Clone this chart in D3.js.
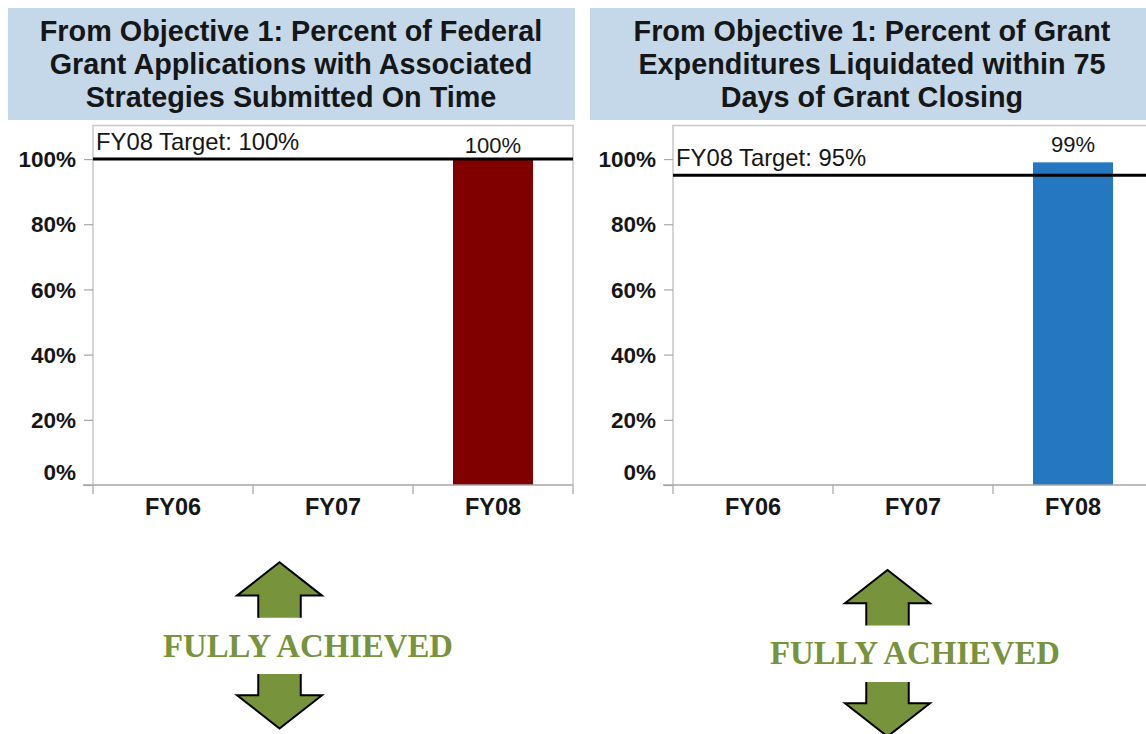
<!DOCTYPE html>
<html><head><meta charset="utf-8">
<script src="https://cdn.jsdelivr.net/npm/d3@7"></script>
<style>
html,body{margin:0;padding:0;background:#fff;}
svg{display:block;}
</style></head>
<body>
<svg id="chart" width="1146" height="734"></svg>
<script>
// ---- data ----
const categories = ["FY06", "FY07", "FY08"];
const applicationsOnTime = [null, null, 100];
const expendituresLiquidated = [null, null, 99];
const targetValues = [100, 95];
const targetLabels = ["FY08 Target: 100%", "FY08 Target: 95%"];
const yTickValues = [0, 20, 40, 60, 80, 100];
const titlesLeft = ["From Objective 1: Percent of Federal", "Grant Applications with Associated", "Strategies Submitted On Time"];
const titlesRight = ["From Objective 1: Percent of Grant", "Expenditures Liquidated within 75", "Days of Grant Closing"];
const statusLabels = ["FULLY ACHIEVED", "FULLY ACHIEVED"];

// ---- layout ----
const layout = [
  {bandX: 8, bandW: 567, plotL: 93, plotR: 573, titleCx: 291, color: "#800000",
   arrowCx: 279.5, upTop: 562.3, downTop: 674, textCx: 308, textBase: 657, labelGap: 6},
  {bandX: 590, bandW: 556, plotL: 673, plotR: 1153, titleCx: 872, color: "#2677C2",
   arrowCx: 887.5, upTop: 570, downTop: 682, textCx: 915, textBase: 664, labelGap: 10.5}
];
const panels = [
  {titles: titlesLeft, values: applicationsOnTime, target: targetValues[0], targetLabel: targetLabels[0], status: statusLabels[0]},
  {titles: titlesRight, values: expendituresLiquidated, target: targetValues[1], targetLabel: targetLabels[1], status: statusLabels[1]}
];

const svg = d3.select("#chart");
const plotTop = 125.5, plotBottom = 485;
const green = "#77933C";
const textCol = "#161616";

panels.forEach((p, i) => {
  const L = layout[i];
  const g = svg.append("g");

  // header band
  g.append("rect").attr("x", L.bandX).attr("y", 8).attr("width", L.bandW).attr("height", 112)
    .attr("fill", "#C4D8E9");
  p.titles.forEach((t, k) => {
    g.append("text").attr("x", L.titleCx).attr("y", 41 + k * 33)
      .attr("text-anchor", "middle")
      .attr("font-family", "Liberation Sans, Arial, sans-serif")
      .attr("font-weight", "bold").attr("font-size", 28.8).attr("fill", textCol)
      .text(t);
  });

  const x = d3.scaleBand().domain(categories).range([L.plotL, L.plotR])
    .paddingInner(0.5).paddingOuter(0.25);
  const y = d3.scaleLinear().domain([0, 110.3]).range([plotBottom, plotTop]);

  // plot frame
  g.append("path")
    .attr("d", `M${L.plotL},${plotBottom}V${plotTop}H${L.plotR}V${plotBottom}`)
    .attr("fill", "none").attr("stroke", "#C8C8C8").attr("stroke-width", 1.5);

  // bars
  const rows = categories.map((c, j) => ({c, v: p.values[j]})).filter(d => d.v != null);
  g.selectAll("rect.bar").data(rows).join("rect").attr("class", "bar")
    .attr("x", d => x(d.c)).attr("width", x.bandwidth())
    .attr("y", d => y(d.v)).attr("height", d => y(0) - y(d.v))
    .attr("fill", L.color);

  // value labels
  g.selectAll("text.val").data(rows).join("text").attr("class", "val")
    .attr("x", d => x(d.c) + x.bandwidth() / 2).attr("y", d => y(d.v) - L.labelGap)
    .attr("text-anchor", "middle")
    .attr("font-family", "Liberation Sans, Arial, sans-serif")
    .attr("font-size", 22).attr("fill", textCol)
    .text(d => d.v + "%");

  // target line
  g.append("line").attr("x1", L.plotL).attr("x2", L.plotR)
    .attr("y1", y(p.target)).attr("y2", y(p.target))
    .attr("stroke", "#000").attr("stroke-width", 3);
  g.append("text").attr("x", L.plotL + 3).attr("y", y(p.target) - 9)
    .attr("font-family", "Liberation Sans, Arial, sans-serif")
    .attr("font-size", 23.8).attr("fill", textCol)
    .text(p.targetLabel);

  // y axis
  const yAxis = g.append("g").attr("transform", `translate(${L.plotL},0)`)
    .call(d3.axisLeft(y).tickValues(yTickValues).tickFormat(d => d + "%").tickSize(9).tickPadding(8));
  yAxis.select(".domain").remove();
  yAxis.selectAll(".tick line").attr("stroke", "#A6A6A6").attr("stroke-width", 1.2);
  yAxis.selectAll(".tick text")
    .attr("font-family", "Liberation Sans, Arial, sans-serif")
    .attr("font-weight", "bold").attr("font-size", 22.5).attr("fill", textCol)
    .attr("dy", d => d === 0 ? "-0.25em" : "0.34em");

  // x axis
  g.append("line").attr("x1", L.plotL - 10).attr("x2", L.plotR)
    .attr("y1", plotBottom).attr("y2", plotBottom)
    .attr("stroke", "#A6A6A6").attr("stroke-width", 1.5);
  const x0 = x.range()[0];
  const bounds = d3.range(categories.length + 1).map(k => x0 + k * x.step());
  g.selectAll("line.xt").data(bounds).join("line").attr("class", "xt")
    .attr("x1", d => d).attr("x2", d => d).attr("y1", plotBottom).attr("y2", plotBottom + 9)
    .attr("stroke", "#A6A6A6").attr("stroke-width", 1.2);
  g.selectAll("text.xl").data(categories).join("text").attr("class", "xl")
    .attr("x", d => x(d) + x.bandwidth() / 2).attr("y", 515)
    .attr("text-anchor", "middle")
    .attr("font-family", "Liberation Sans, Arial, sans-serif")
    .attr("font-weight", "bold").attr("font-size", 23.5).attr("fill", textCol)
    .text(d => d);

  // status arrows
  const cx = L.arrowCx, hw = 42.5, sw = 21.25, hh = 33.3;
  const ut = L.upTop, ub = ut + 55.5;
  g.append("path").attr("d", `M${cx},${ut}L${cx + hw},${ut + hh}H${cx + sw}V${ub}H${cx - sw}V${ut + hh}H${cx - hw}Z`)
    .attr("fill", green);
  g.append("path").attr("d", `M${cx + sw},${ub}V${ut + hh}H${cx + hw}L${cx},${ut}L${cx - hw},${ut + hh}H${cx - sw}V${ub}`)
    .attr("fill", "none").attr("stroke", "#000").attr("stroke-width", 2);
  const dt = L.downTop, db = dt + 21.2, tip = db + hh;
  g.append("path").attr("d", `M${cx - sw},${dt}V${db}H${cx - hw}L${cx},${tip}L${cx + hw},${db}H${cx + sw}V${dt}Z`)
    .attr("fill", green);
  g.append("path").attr("d", `M${cx - sw},${dt}V${db}H${cx - hw}L${cx},${tip}L${cx + hw},${db}H${cx + sw}V${dt}`)
    .attr("fill", "none").attr("stroke", "#000").attr("stroke-width", 2);
  g.append("text").attr("x", L.textCx).attr("y", L.textBase)
    .attr("text-anchor", "middle")
    .attr("font-family", "Liberation Serif, Times New Roman, serif")
    .attr("font-weight", "bold").attr("font-size", 32.8).attr("fill", green)
    .text(p.status);
});
</script>
</body></html>
